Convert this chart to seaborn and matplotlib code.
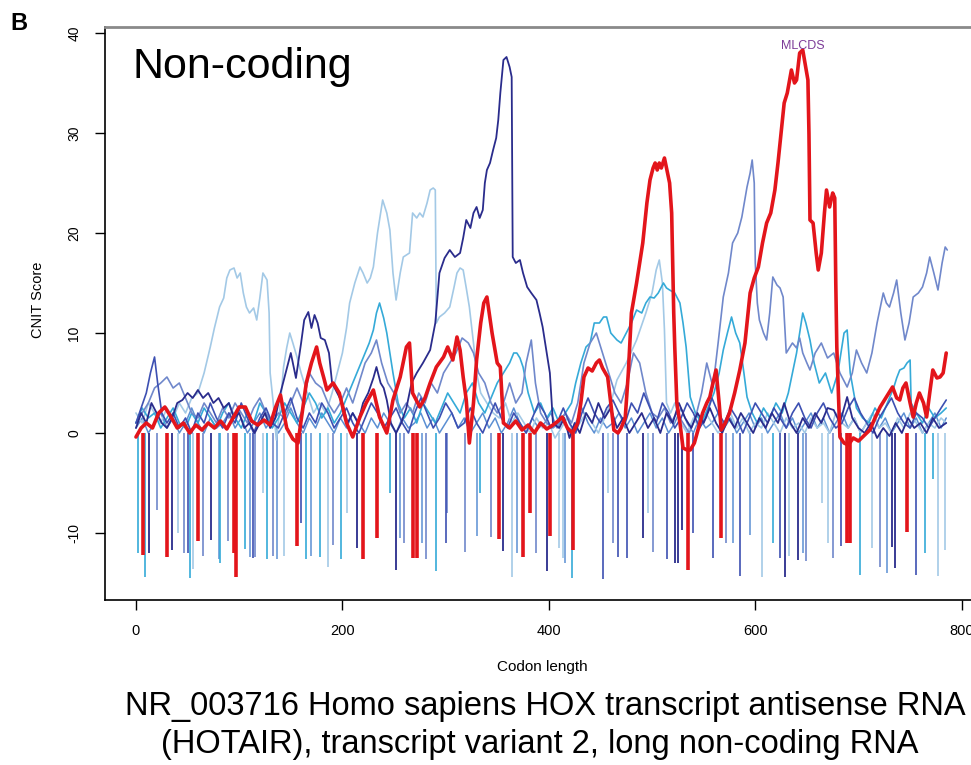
import matplotlib
matplotlib.use("Agg")
import matplotlib.pyplot as plt
import pandas as pd
import seaborn as sns

# CNIT score along the transcript, one sliding-window trace per reading frame/offset
red_pts = [(0,-0.4),(5,0.5),(10,1),(16,0.5),(22,2),(28,2.6),(34,1.6),(40,0.5),(46,1),(52,0),(58,0.8),(64,0.3),
           (70,1),(76,0.5),(82,1.2),(88,0.4),(94,1.5),(100,2.6),(106,2.6),(112,1.2),(118,0.8),(124,1.3),(130,0.8),
           (135,2.5),(140,3.8),(146,0.5),(152,-0.6),(157,-1),(161,2),(165,5),(170,7),(175,8.6),(178,7),(182,5.5),
           (185,4.3),(191,5),(197,4),(204,1),(210,-0.4),(217,1.6),(223,3),(230,4.3),(236,1.6),(243,0),(249,3.3),
           (256,5.6),(262,8.6),(265,9),(268,4),(275,2.6),(280,3.5),(285,5),(291,6.6),(298,7.6),(302,8.6),(307,7.3),
           (311,9.6),(314,8.3),(317,5.6),(320,3.3),(323,-1),(327,3),(330,7.3),(334,11),(337,13),(340,13.6),(345,10),
           (350,7),(353,6.6),(356,1),(362,0.5),(368,1.2),(374,0.3),(380,0.8),(386,0),(392,1),(398,0.4),(404,0.8),
           (409,1.2),(413,1.6),(418,0.5),(423,0),(428,1),(431,3),(434,5.6),(438,6.5),(442,6.2),(446,7),(449,7.3),
           (452,6.5),(457,5.6),(460,3),(463,0.3),(467,0),(470,0.5),(474,1.5),(477,6),(480,12),(485,15),(491,19),
           (495,23),(498,25.3),(501,26.5),(503,27),(505,26.3),(507,27),(509,26.5),(512,27.5),(515,26),(517,25),
           (519,22),(521,12),(522,8.6),(524,3),(527,1),(530,-1.5),(534,-1.7),(537,-1.7),(541,-1),(545,0.5),(549,2),
           (553,3),(556,3.6),(559,5),(562,6.3),(565,3),(567,0.3),(571,1),(575,2),(580,4),(585,6.3),(590,9),(595,14),
           (599,15.5),(603,16.6),(607,19),(611,21),(615,22),(619,24.3),(622,27),(624,29),(626,31),(628,33),(631,34),
           (635,36.3),(638,35),(640,35.3),(643,38),(646,38.3),(649,36.5),(651,35.3),(652,30),(653,21.3),(656,21),
           (659,18),(661,16.3),(664,18),(667,22),(669,24.3),(672,22.6),(675,24),(677,23.5),(678,15),(679,8.6),
           (682,-0.4),(686,-1),(690,-1.2),(695,-0.5),(700,-0.8),(705,-0.3),(711,0.3),(716,1.5),(721,2.6),(727,3.6),
           (733,4.6),(737,3.5),(740,3.3),(743,4.5),(746,5),(750,3),(753,1.6),(756,3),(759,4),(763,3),(766,1.6),
           (769,4),(772,6.3),(776,5.5),(779,5.6),(782,6),(785,8)]
red_dips = [(7,-12.2),(30,-12.4),(60,-10.8),(95,-12.0),(97,-14.4),(156,-11.3),(220,-12.6),(234,-10.5),(268,-12.5),
            (272,-12.5),(352,-10.6),(375,-12.4),(382,-8),(401,-10.3),(423,-11.7),(535,-13.7),(567,-10.5),
            (689,-11),(692,-11),(747,-9.9)]

navy_pts = [(0,0.5),(5,2),(10,1),(15,3),(20,2),(25,1),(30,0.5),(35,1.5),(40,3),(45,3.3),(50,4),(55,3.5),(60,4.3),
            (65,3.5),(70,4),(75,3),(80,3.5),(85,2.5),(90,3),(95,1.5),(100,2),(105,0.5),(110,1),(115,0),(120,1),
            (125,2),(130,0.5),(135,1.5),(140,4),(145,6),(150,8),(155,5.5),(160,9),(163,11.3),(167,12.1),(170,10.5),
            (173,11.8),(176,11),(179,9.5),(183,9.3),(187,8),(190,5),(195,4),(200,3),(205,1),(210,2),(215,1),(220,3),
            (225,4),(230,5.5),(233,6.6),(237,5),(240,4.5),(243,3.3),(247,1),(252,0),(257,1),(262,2.5),(267,5),
            (272,6),(278,7),(285,8.3),(290,11),(294,16),(299,17.5),(304,18.3),(309,17.6),(314,18),(317,19.5),
            (320,21.3),(324,20.5),(327,22),(330,22.6),(333,21.5),(336,22.3),(338,25),(340,26.3),(343,27),(346,28.3),
            (349,29.5),(351,31.3),(353,34),(356,37.3),(359,37.6),(362,36.6),(364,35.6),(365,17.6),(368,17),
            (372,17.3),(375,16),(379,14.6),(383,14),(388,13.3),(391,12),(394,10.6),(398,8),(401,6),(404,1),(410,0.5),
            (415,1.5),(420,-0.5),(425,1),(430,0),(436,2),(442,1),(448,3),(454,1.5),(460,2.5),(466,0.5),(472,1.5),
            (478,0),(484,1),(490,2),(496,0.5),(502,1.5),(508,0),(514,2),(520,1),(526,3),(532,1.5),(538,0.5),(544,2),
            (550,1),(556,2.5),(562,1),(568,0),(574,1.5),(580,0.5),(586,2),(592,1),(598,0),(604,1.5),(610,0.5),
            (616,2),(622,1),(628,3),(634,1),(640,0),(646,1.5),(652,0.5),(658,2),(664,1),(670,2.5),(676,2.3),(682,1),
            (689,3.6),(694,1.5),(700,0.5),(706,0),(712,1),(718,-0.5),(724,0.5),(730,-0.3),(736,1),(742,0),(748,1.5),
            (754,0.5),(760,1),(766,0),(772,1.5),(778,0.5),(785,1)]
navy_dips = [(13,-12),(35,-11.7),(73,-10.7),(214,-11.5),(252,-13.7),(356,-11.8),(398,-13.8),(491,-10.5),
             (522,-13),(525,-13),(529,-9.7),(629,-14.4),(641,-12.7),(732,-11.4),(735,-13.5)]

royal_pts = [(0,1),(5,2.5),(10,4),(14,6),(18,7.6),(21,5),(25,2),(30,1),(36,2),(42,0.5),(48,1.5),(54,0),(60,2),
             (66,1),(72,3),(78,1.5),(84,0.5),(90,2),(96,1),(102,3),(108,1.5),(114,0),(120,1.5),(126,2.5),(132,1),
             (138,0.5),(144,2),(150,3.5),(156,1.5),(162,0.5),(168,2),(174,1),(180,3),(186,2),(192,0.5),(198,1.5),
             (204,2.5),(210,1),(216,0),(222,1.5),(228,3),(234,2),(240,0.5),(246,1.5),(252,2.5),(258,1),(264,0),
             (270,2),(276,3.5),(282,2),(288,0.5),(294,1.5),(300,3),(306,2),(312,0.5),(318,1),(324,2.5),(330,1),
             (336,0),(342,1.5),(348,3),(354,1.5),(360,0.5),(366,2),(372,1),(378,0),(384,1.5),(390,3),(396,2),
             (402,0.5),(408,1),(414,2.5),(420,1),(426,0),(432,2),(438,3.5),(444,2),(450,1),(456,2.5),(462,3.3),
             (468,2),(474,1),(480,3),(486,2),(492,4),(498,2.5),(504,1),(510,3),(516,2),(522,0.5),(528,1.5),(534,3),
             (540,2),(546,0.5),(552,1.5),(558,3.5),(564,2),(570,1),(576,2.5),(582,1.5),(588,0),(594,1.5),(600,3),
             (606,2),(612,1),(618,2.5),(624,1.5),(630,0.5),(636,2),(642,3),(648,1.5),(654,0.5),(660,2),(666,3),
             (672,1.5),(678,0.5),(684,1),(690,2.5),(696,3.5),(702,2),(708,1),(714,0),(720,1.5),(726,2.5),(732,3.5),
             (738,2),(744,1),(750,0.5),(756,2),(762,1.5),(768,0.5),(774,1.5),(780,2.5),(785,3.3)]
royal_dips = [(50,-12),(113,-12.5),(160,-9),(300,-11),(452,-14.6),(467,-12.4),(476,-12.5),(514,-12.6),(540,-10),
              (559,-12.5),(585,-14.3),(624,-12.5),(683,-11.3),(756,-14.2)]

peri_pts = [(0,1),(6,2),(12,3),(18,4.5),(24,5),(30,5.6),(36,4.5),(42,5),(48,3.5),(54,2),(60,1.5),(66,3),(72,2),
            (78,1),(84,2.5),(90,1.5),(96,3),(102,2),(108,1),(114,2.5),(120,3.5),(126,2),(132,1),(138,2),(144,1.5),
            (150,3),(156,4.5),(162,3),(168,6),(174,5),(180,4.5),(186,3),(192,2),(198,3),(204,4.5),(210,3),(216,5),
            (222,7),(228,8),(233,9.3),(238,7),(244,5),(250,4),(256,2),(262,3),(268,2),(274,4),(280,3),(286,5),
            (292,4),(298,6),(304,7),(310,8),(316,9.5),(322,9),(327,8),(332,6),(338,5),(344,3),(350,2),(356,3),
            (362,5),(368,3),(374,4),(378,7),(383,9.3),(387,5),(392,2),(398,1),(404,0.5),(410,1),(416,2),(422,1),
            (428,3),(434,7),(440,9),(446,10),(452,8),(458,6),(464,4),(470,3),(476,5),(482,8),(488,7),(494,4),
            (500,2),(506,1.5),(512,2.5),(518,1),(524,2),(530,1),(536,0),(542,1.5),(548,4),(553,7),(559,4.6),(564,9),
            (569,13.6),(574,16),(578,19),(583,20),(587,21.6),(592,24.6),(595,26),(597,27.3),(599,25),(600,17),
            (602,13),(604,11.3),(608,10),(611,9.3),(614,12),(617,15.6),(621,14.8),(624,14.5),(627,13.6),(630,8),
            (633,8.5),(636,9),(640,8.5),(643,9.5),(646,8),(650,7),(653,6.3),(658,8),(664,9),(670,7.5),(676,8),
            (682,6),(689,4.6),(694,6),(698,8.3),(703,7),(708,6),(713,8),(718,11),(721,12.5),(724,14),(727,13),
            (730,12.6),(734,14),(737,15.3),(741,12),(745,9.3),(749,11),(753,13.6),(758,14),(762,14.6),(766,16),
            (769,17.6),(773,16),(777,14.3),(781,17),(784,18.6),(786,18.3)]
peri_dips = [(20,-7.7),(47,-12),(65,-12.3),(89,-10.8),(115,-12.4),(133,-12.3),(191,-11.2),(260,-11),(281,-12.6),
             (301,-8),(319,-11.9),(344,-10.4),(388,-12),(462,-11),(501,-11.9),(572,-11),(649,-12.8),(675,-12.5),
             (721,-13.4)]

pale_pts = [(0,2),(6,1),(12,3),(18,2),(24,1),(30,2.5),(36,1.5),(42,3),(48,2),(54,3.5),(60,4),(66,6),(72,8.6),
            (76,10.5),(81,12.6),(85,13.5),(88,15.5),(91,16.3),(95,16.5),(98,15.5),(101,16),(104,14),(107,12.6),
            (110,12),(114,12.5),(117,11.3),(120,13.5),(123,16),(127,15.3),(129,12),(130,6),(133,3),(136,-0.7),
            (140,3),(143,6.6),(146,8.5),(149,10),(152,9),(156,7.6),(160,6),(166,4),(172,2),(178,3),(184,2),(190,4),
            (195,6),(200,8),(204,10.5),(207,13),(212,15),(217,16.6),(220,16),(224,15),(227,15.5),(230,16.6),
            (234,20),(239,23.3),(243,22),(246,20.3),(249,16),(252,13.3),(256,16),(259,17.6),(265,18),(268,22),
            (272,21.5),(275,22),(278,21.6),(282,23),(285,24.3),(288,24.5),(290,24.3),(291,11),(294,11.6),(299,12),
            (304,12.6),(308,14.5),(311,16),(314,16.5),(317,16.3),(320,14.5),(323,12.6),(327,9),(330,6),(334,4),
            (340,3),(346,2),(352,1.5),(358,3),(364,1),(370,2),(376,1),(382,0),(388,1.5),(394,0.5),(400,1),
            (406,-0.5),(412,0.5),(418,1.5),(424,0),(430,1),(436,2),(442,1),(448,0),(454,1.5),(460,3),(466,5.3),
            (475,7),(485,9.3),(494,12),(500,14),(504,16.3),(507,17.3),(510,15),(512,10.3),(514,3),(518,2),(522,3),
            (528,1),(534,0),(540,1.5),(546,0.5),(552,2),(558,1),(564,0),(570,1),(576,2),(582,0.5),(588,1.5),(594,0),
            (600,1),(606,0.5),(612,2),(618,1),(624,0),(630,1.5),(636,0.5),(642,1),(648,0),(654,1.5),(660,0.5),
            (666,1),(672,0),(678,2),(684,1),(690,0.5),(696,1.5),(702,0),(708,1),(714,2),(720,0.5),(726,1),(732,0),
            (738,1.5),(744,0.5),(750,2),(756,1),(762,0),(768,1),(774,0.5),(780,1.5),(785,1)]
pale_dips = [(41,-10),(55,-13.6),(123,-6),(143,-12.3),(186,-13.4),(204,-8),(364,-14.4),(410,-11.5),(414,-12.5),
             (457,-6),(496,-8),(607,-14.4),(633,-12.3),(665,-7),(670,-11),(713,-11.5),(777,-14.3),(784,-11.7)]

cyan_pts = [(0,1),(6,2.5),(12,1.5),(18,2),(24,0.5),(30,1.5),(36,2.5),(42,1),(48,0.5),(54,2),(60,1),(66,2.5),
            (72,1.5),(78,0.5),(84,2),(90,3),(96,1.5),(102,0.5),(108,2),(114,1),(120,3),(126,2),(132,0.5),(138,1.5),
            (144,3),(150,2),(156,1),(162,2.5),(168,4),(174,3),(180,1.5),(186,2.5),(192,1),(198,2),(204,3.5),(210,5),
            (216,6.5),(222,8),(226,9),(230,10.3),(233,12),(236,13),(240,11.5),(243,10),(246,8),(249,6),(254,3),
            (260,1.5),(266,2.5),(272,1),(278,3),(284,2),(290,1),(296,2.5),(302,4),(308,3),(314,2),(320,4),(326,5),
            (332,3),(338,2),(344,3.5),(350,5),(356,6),(362,7),(366,8),(369,8),(372,7.5),(375,6.6),(380,4),(386,2),
            (392,3),(398,1.5),(404,2.5),(410,1),(416,2),(422,3),(426,5),(431,7),(436,8.6),(440,9),(444,11),(449,11),
            (453,11.6),(456,11.6),(460,10),(466,9.3),(470,9),(475,10),(480,11),(485,12.3),(490,12),(494,13),
            (498,13.6),(502,13.5),(506,14),(511,15),(514,14.5),(517,14.3),(522,14),(527,13),(530,11),(533,8.6),
            (537,3.6),(542,2),(548,1),(554,2.5),(560,4),(565,6),(569,8.3),(573,10),(577,11.6),(581,10),(585,9),
            (589,6),(592,3.6),(597,2),(602,1),(608,2.5),(614,1.5),(620,3),(626,2),(632,4),(636,6),(640,8),(643,10),
            (646,12),(649,11),(653,9.3),(657,7),(662,5),(668,6),(674,4),(680,6),(686,10),(689,10.3),(692,6),
            (698,2.5),(704,1.5),(710,1),(716,2.5),(722,1.5),(728,3),(734,4.5),(737,5.5),(740,6.3),(744,6.5),(747,7),
            (750,7.3),(751,3),(756,2),(762,1),(768,2.5),(774,1.5),(780,2),(785,2.5)]
cyan_dips = [(2,-12),(9,-14.4),(52,-14.5),(81,-13),(106,-11.6),(127,-12.6),(165,-12.6),(178,-12.4),(199,-12.6),
             (246,-6),(291,-13.8),(333,-6),(422,-14.5),(617,-11),(701,-14.2),(764,-12),(772,-4.6)]

steel_pts = [(0,0.5),(6,1.5),(12,0),(18,1),(24,2),(30,0.5),(36,1.5),(42,0),(48,1),(54,2.5),(60,1),(66,0),(72,1.5),
             (78,0.5),(84,1),(90,2),(96,0.5),(102,1.5),(108,0),(114,1),(120,2),(126,0.5),(132,1.5),(138,0),(144,1),
             (150,2.5),(156,1),(162,0),(168,1.5),(174,0.5),(180,2),(186,1),(192,0),(198,1.5),(204,0.5),(210,2),
             (216,1),(222,0),(228,1.5),(234,0.5),(240,2),(246,1),(252,0),(258,1.5),(264,0.5),(270,1),(276,2),
             (282,0.5),(288,1.5),(294,0),(300,1),(306,2),(312,0.5),(318,1.5),(324,0),(330,1),(336,2),(342,0.5),
             (348,1.5),(354,0),(360,1),(366,2.5),(372,1),(378,0),(384,1.5),(390,0.5),(396,1),(402,2),(408,0.5),
             (414,1.5),(420,0),(426,1),(432,2.5),(438,1),(444,0),(450,1.5),(456,0.5),(462,1),(468,2),(474,0.5),
             (480,1.5),(486,0),(492,1),(498,2),(504,0.5),(510,1.5),(516,0),(522,1),(528,2.5),(534,1),(540,0),
             (546,1.5),(552,0.5),(558,1),(564,2),(570,0.5),(576,1.5),(582,0),(588,1),(594,2),(600,0.5),(606,1.5),
             (612,0),(618,1),(624,2),(630,0.5),(636,1.5),(642,0),(648,1),(654,2),(660,0.5),(666,1.5),(672,0),
             (678,1),(684,2),(690,0.5),(696,1.5),(702,0),(708,1),(714,2),(720,0.5),(726,1.5),(732,0),(738,1),
             (744,2),(750,0.5),(756,1.5),(762,0),(768,1),(774,2),(780,0.5),(785,1.5)]
steel_dips = [(80,-12.6),(110,-12.4),(137,-12.6),(170,-12.3),(256,-10.5),(277,-11),(330,-10.3),(369,-12),
              (416,-13),(578,-11),(595,-10.2),(646,-12),(728,-14)]

series = {
    "steel": (steel_pts, steel_dips, "#5b8fd3", 1.1),
    "pale": (pale_pts, pale_dips, "#a3c9e6", 1.2),
    "cyan": (cyan_pts, cyan_dips, "#35aad8", 1.2),
    "periwinkle": (peri_pts, peri_dips, "#7088cb", 1.2),
    "royal": (royal_pts, royal_dips, "#3d50b2", 1.2),
    "navy": (navy_pts, navy_dips, "#2a2c8c", 1.3),
    "red": (red_pts, red_dips, "#e3151b", 2.6),
}

sns.set_style("ticks")
plt.rcParams["font.family"] = ["Liberation Sans", "DejaVu Sans"]
plt.rcParams["axes.unicode_minus"] = False
plt.rcParams["text.color"] = "black"
plt.rcParams["axes.labelcolor"] = "black"
plt.rcParams["xtick.color"] = "black"
plt.rcParams["ytick.color"] = "black"

fig = plt.figure(figsize=(9.71, 7.65), dpi=100)
ax = fig.add_axes([105 / 971, 165 / 765, 1 - 105 / 971, 573 / 765])

for name, (pts, dips, color, lw) in series.items():
    df = pd.DataFrame(pts, columns=["codon", "score"])
    dd = pd.DataFrame(dips, columns=["codon", "score"])
    ax.vlines(dd["codon"], 0, dd["score"], colors=color, lw=lw)
    sns.lineplot(data=df, x="codon", y="score", color=color, lw=lw, estimator=None, sort=False, ax=ax)

# label the maximum of the red (MLCDS) trace
red_df = pd.DataFrame(red_pts, columns=["codon", "score"])
top = red_df.loc[red_df["score"].idxmax()]
ax.text(top["codon"], top["score"] + 0.4, "MLCDS", color="#7d3c98", fontsize=9, ha="center", va="center")

ax.set_xlim(-30, 809)
ax.set_ylim(-16.7, 40.6)
ax.set_xticks([0, 200, 400, 600, 800])
ax.set_yticks([-10, 0, 10, 20, 30, 40])
ax.tick_params(direction="out", length=7, width=1, color="black", labelcolor="black",
               bottom=True, left=True, top=False, right=False)
ax.tick_params(axis="x", pad=10, labelsize=10.5)
ax.tick_params(axis="y", pad=10, labelsize=10)
for lbl in ax.get_yticklabels():
    lbl.set_rotation(90)
    lbl.set_va("center")

for s in ["left", "bottom"]:
    ax.spines[s].set_color("black")
    ax.spines[s].set_linewidth(1.2)
ax.spines["top"].set_visible(True)
ax.spines["top"].set_color("#8a8a8a")
ax.spines["top"].set_linewidth(2)
ax.spines["right"].set_visible(False)

ax.set_xlabel("Codon length", fontsize=11)
ax.set_ylabel("CNIT Score", fontsize=10.5)
ax.xaxis.set_label_coords((542 - 105) / 866, (600 - 660) / 573)
ax.yaxis.set_label_coords((45 - 105) / 866, (600 - 300) / 573)

ax.text(0.032, 0.911, "Non-coding", transform=ax.transAxes, fontsize=31, va="baseline", ha="left")
fig.text(19 / 971, 1 - 24 / 765, "B", fontsize=17, fontweight="bold", ha="center", va="center")
fig.text(545 / 971, 1 - 706 / 765, "NR_003716 Homo sapiens HOX transcript antisense RNA",
         fontsize=23.5, ha="center", va="center")
fig.text(540 / 971, 1 - 745 / 765, "(HOTAIR), transcript variant 2, long non-coding RNA",
         fontsize=23.5, ha="center", va="center")

fig.savefig("out.png", dpi=100)
